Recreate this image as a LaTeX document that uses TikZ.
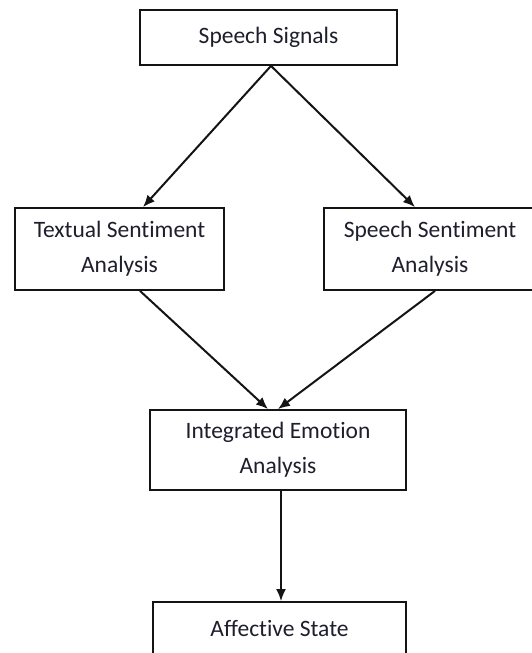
\documentclass[tikz,border=0pt]{standalone}
\usepackage{fontspec}
\setmainfont{Carlito}[Ligatures=NoCommon]
\usepackage{xcolor}
\usetikzlibrary{arrows.meta}
\definecolor{boxline}{RGB}{20,20,20}
\definecolor{boxtext}{RGB}{30,30,45}

\tikzset{
blockbox/.style={draw=boxline, line width=1.8pt, rectangle, align=center, inner sep=0pt,
  text=boxtext, font=\fontsize{23.5}{35}\selectfont},
flowarrow/.style={-{Latex[length=12pt,width=10pt]}, line width=2pt, color=boxline}
}

\begin{document}
\begin{tikzpicture}[x=1pt,y=-1pt]
\useasboundingbox (0,0) rectangle (532,653);
\node[blockbox, minimum width=257pt, minimum height=55pt] (sig) at (268.5,37.5) {Speech Signals};
\node[blockbox, minimum width=209pt, minimum height=82pt] (txt) at (119.5,249) {Textual Sentiment\\Analysis};
\node[blockbox, minimum width=212pt, minimum height=82pt] (spc) at (430,249) {Speech Sentiment\\Analysis};
\node[blockbox, minimum width=256pt, minimum height=80pt] (intg) at (278,450) {Integrated Emotion\\Analysis};
\node[blockbox, minimum width=253pt, minimum height=52pt] (aff) at (279.5,628) {Affective State};

\draw[flowarrow] ([xshift=2.5pt]sig.south) -- ([xshift=23.5pt]txt.north);
\draw[flowarrow] ([xshift=2.5pt]sig.south) -- ([xshift=-15pt]spc.north);
\draw[flowarrow] ([xshift=20.5pt]txt.south) -- ([xshift=-10pt]intg.north);
\draw[flowarrow] ([xshift=5pt]spc.south) -- (intg.north);
\draw[flowarrow] ([xshift=3pt]intg.south) -- ([xshift=1.5pt]aff.north);
\end{tikzpicture}
\end{document}
